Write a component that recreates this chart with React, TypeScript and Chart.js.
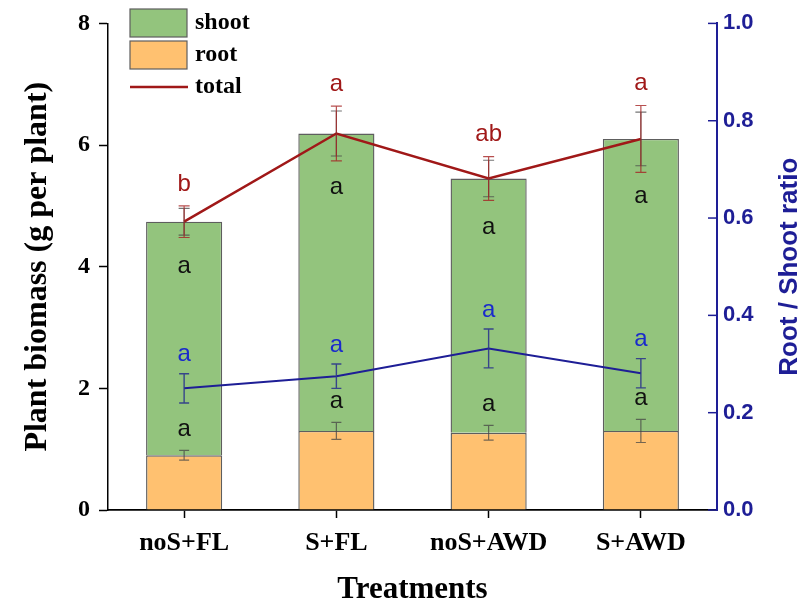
import { useEffect, useRef } from "react";
import { Chart, registerables } from "chart.js";

Chart.register(...registerables);

// Biomass per treatment (g per plant)
const treatments = ["noS+FL", "S+FL", "noS+AWD", "S+AWD"];
const rootMass = [0.9, 1.3, 1.27, 1.3];
const shootMass = [3.84, 4.89, 4.18, 4.8];
const totalMass = [4.74, 6.19, 5.45, 6.1];
const rootErr = [0.08, 0.14, 0.12, 0.19];
const shootErr = [0.22, 0.37, 0.3, 0.44];
const totalErr = [0.26, 0.45, 0.36, 0.55];

// Root / shoot ratio
const ratio = [0.25, 0.275, 0.332, 0.281];
const ratioErr = [0.03, 0.025, 0.04, 0.03];

// Significance letters
const totalLetters = ["b", "a", "ab", "a"];
const shootLetters = ["a", "a", "a", "a"];
const rootLetters = ["a", "a", "a", "a"];
const ratioLetters = ["a", "a", "a", "a"];

const SERIF = "'Liberation Serif', 'Times New Roman', serif";
const SANS = "'Liberation Sans', Arial, sans-serif";
const GREEN = "#93C47D";
const ORANGE = "#FFC170";
const RED = "#A01818";
const NAVY = "#1E1E96";
const LETTER_BLUE = "#1A2ACC";
const BAR_EDGE = "#5e5e5e";

function drawErr(ctx: CanvasRenderingContext2D, x: number, yTop: number, yBot: number, half: number, color: string, width = 1.2) {
  ctx.save();
  ctx.strokeStyle = color;
  ctx.lineWidth = width;
  ctx.beginPath();
  ctx.moveTo(x, yTop);
  ctx.lineTo(x, yBot);
  ctx.moveTo(x - half, yTop);
  ctx.lineTo(x + half, yTop);
  ctx.moveTo(x - half, yBot);
  ctx.lineTo(x + half, yBot);
  ctx.stroke();
  ctx.restore();
}

function drawText(ctx: CanvasRenderingContext2D, text: string, x: number, y: number, font: string, color: string, align: CanvasTextAlign = "center", rot = 0) {
  ctx.save();
  ctx.font = font;
  ctx.fillStyle = color;
  ctx.textAlign = align;
  ctx.textBaseline = "middle";
  ctx.translate(x, y);
  if (rot) ctx.rotate(rot);
  ctx.fillText(text, 0, 0);
  ctx.restore();
}

const decorations = {
  id: "decorations",
  afterDatasetsDraw(chart: any) {
    const { ctx, chartArea, scales } = chart;
    const { x, y, y1 } = scales;

    treatments.forEach((_, i) => {
      const cx = x.getPixelForValue(i);
      // root and shoot error bars (grey)
      drawErr(ctx, cx, y.getPixelForValue(rootMass[i] + rootErr[i]), y.getPixelForValue(rootMass[i] - rootErr[i]), 5, "rgba(70,70,70,0.75)");
      drawErr(ctx, cx, y.getPixelForValue(totalMass[i] + shootErr[i]), y.getPixelForValue(totalMass[i] - shootErr[i]), 5.5, "rgba(70,70,70,0.75)");
      // total error bars (red)
      drawErr(ctx, cx, y.getPixelForValue(totalMass[i] + totalErr[i]), y.getPixelForValue(totalMass[i] - totalErr[i]), 5.5, "rgba(165,35,35,0.8)");
      // ratio error bars (blue)
      drawErr(ctx, cx, y1.getPixelForValue(ratio[i] + ratioErr[i]), y1.getPixelForValue(ratio[i] - ratioErr[i]), 5, "rgba(45,55,140,0.9)", 1.4);

      const letterFont = `24px ${SANS}`;
      drawText(ctx, totalLetters[i], cx, y.getPixelForValue(totalMass[i] + totalErr[i]) - 22, letterFont, RED);
      drawText(ctx, shootLetters[i], cx, y.getPixelForValue(totalMass[i] - shootErr[i]) + 31, letterFont, "#111");
      drawText(ctx, rootLetters[i], cx, y.getPixelForValue(rootMass[i] + rootErr[i]) - 21, letterFont, "#111");
      drawText(ctx, ratioLetters[i], cx, y1.getPixelForValue(ratio[i] + ratioErr[i]) - 19, letterFont, LETTER_BLUE);
    });

    // inward ticks on the right axis
    ctx.save();
    ctx.strokeStyle = NAVY;
    ctx.lineWidth = 1.5;
    y1.ticks.forEach((t: any) => {
      const py = y1.getPixelForValue(t.value);
      ctx.beginPath();
      ctx.moveTo(chartArea.right - 9, py);
      ctx.lineTo(chartArea.right, py);
      ctx.stroke();
    });
    ctx.restore();

    // axis titles
    const midY = (chartArea.top + chartArea.bottom) / 2;
    drawText(ctx, "Plant biomass (g per plant)", 38, midY, `bold 32px ${SERIF}`, "#000", "center", -Math.PI / 2);
    drawText(ctx, "Treatments", (chartArea.left + chartArea.right) / 2, 590, `bold 31px ${SERIF}`, "#000");
    drawText(ctx, "Root / Shoot ratio", 790, midY, `bold 26px ${SANS}`, NAVY, "center", -Math.PI / 2);

    // legend
    ctx.save();
    ctx.lineWidth = 1.2;
    ctx.strokeStyle = BAR_EDGE;
    ctx.fillStyle = GREEN;
    ctx.fillRect(130, 9, 57, 28);
    ctx.strokeRect(130, 9, 57, 28);
    ctx.fillStyle = ORANGE;
    ctx.fillRect(130, 41, 57, 28);
    ctx.strokeRect(130, 41, 57, 28);
    ctx.strokeStyle = RED;
    ctx.lineWidth = 2.5;
    ctx.beginPath();
    ctx.moveTo(130, 87);
    ctx.lineTo(188, 87);
    ctx.stroke();
    ctx.restore();
    const lf = `bold 24px ${SERIF}`;
    drawText(ctx, "shoot", 195, 23, lf, "#000", "left");
    drawText(ctx, "root", 195, 55, lf, "#000", "left");
    drawText(ctx, "total", 195, 87, lf, "#000", "left");
  },
};

export default function App() {
  const canvasRef = useRef<HTMLCanvasElement | null>(null);

  useEffect(() => {
    if (!canvasRef.current) return;
    const chart = new Chart(canvasRef.current, {
      type: "bar",
      data: {
        labels: treatments,
        datasets: [
          {
            type: "line",
            label: "total",
            data: totalMass,
            yAxisID: "y",
            stack: "totalLine",
            borderColor: RED,
            borderWidth: 2.5,
            pointRadius: 0,
            fill: false,
            order: 0,
          } as any,
          {
            type: "line",
            label: "Root / Shoot ratio",
            data: ratio,
            yAxisID: "y1",
            borderColor: NAVY,
            borderWidth: 2,
            pointRadius: 0,
            fill: false,
            order: 1,
          } as any,
          {
            type: "bar",
            label: "root",
            data: rootMass,
            yAxisID: "y",
            stack: "biomass",
            backgroundColor: ORANGE,
            borderColor: BAR_EDGE,
            borderWidth: 1.4,
            barPercentage: 0.5,
            categoryPercentage: 1,
            order: 2,
          },
          {
            type: "bar",
            label: "shoot",
            data: shootMass,
            yAxisID: "y",
            stack: "biomass",
            backgroundColor: GREEN,
            borderColor: BAR_EDGE,
            borderWidth: 1.4,
            barPercentage: 0.5,
            categoryPercentage: 1,
            order: 3,
          },
        ],
      },
      options: {
        responsive: false,
        animation: false,
        devicePixelRatio: 1,
        layout: { padding: { top: 20, left: 0, right: 0, bottom: 0 } },
        plugins: { legend: { display: false }, tooltip: { enabled: false } },
        scales: {
          x: {
            stacked: true,
            offset: true,
            grid: {
              display: true,
              drawOnChartArea: false,
              drawTicks: true,
              tickLength: 8,
              tickWidth: 1.5,
              tickColor: "#000",
              offset: false,
            },
            border: { display: true, color: "#000", width: 1.8 },
            ticks: { color: "#000", padding: 10, font: { family: SERIF, size: 26, weight: "bold" } },
            afterFit: (s: any) => {
              s.height = 98;
            },
          },
          y: {
            stacked: true,
            position: "left",
            min: 0,
            max: 8,
            grid: {
              display: true,
              drawOnChartArea: false,
              drawTicks: true,
              tickLength: 9,
              tickWidth: 1.5,
              tickColor: "#000",
            },
            border: { display: true, color: "#000", width: 1.5 },
            ticks: { stepSize: 2, color: "#000", padding: 9, font: { family: SERIF, size: 24, weight: "bold" } },
            afterFit: (s: any) => {
              s.width = 108;
            },
          },
          y1: {
            position: "right",
            min: 0,
            max: 1,
            grid: { display: true, drawOnChartArea: false, drawTicks: false },
            border: { display: true, color: NAVY, width: 2 },
            ticks: {
              stepSize: 0.2,
              color: NAVY,
              padding: 6,
              font: { family: SANS, size: 22, weight: "bold" },
              callback: (v: any) => Number(v).toFixed(1),
            },
            afterFit: (s: any) => {
              s.width = 86;
            },
          },
        },
      },
      plugins: [decorations],
    });
    return () => chart.destroy();
  }, []);

  return (
    <div style={{ position: "fixed", left: 0, top: 0, width: 803, height: 608, background: "#fff" }}>
      <canvas ref={canvasRef} width={803} height={608} style={{ display: "block" }} />
    </div>
  );
}
